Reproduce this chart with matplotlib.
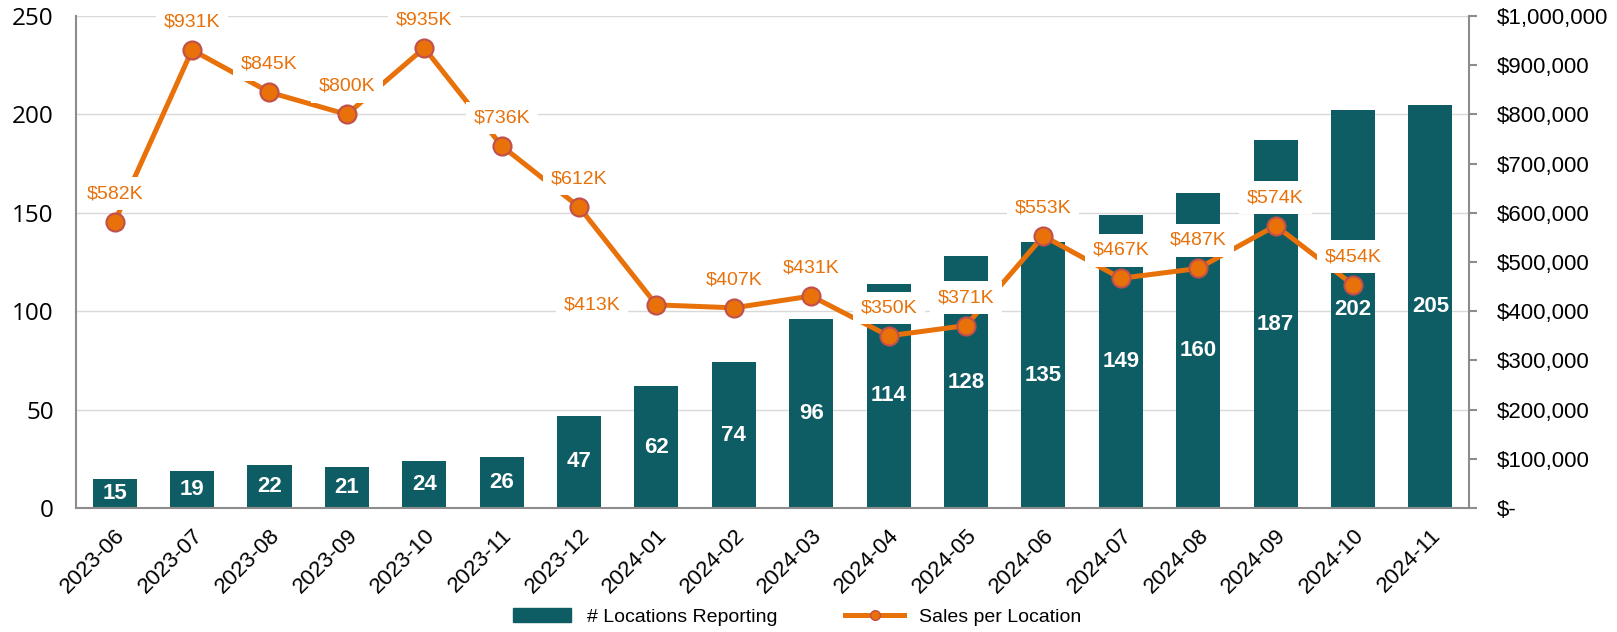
import numpy as np
import matplotlib.pyplot as plt
from matplotlib.lines import Line2D
from matplotlib.patches import Patch
from matplotlib.ticker import FuncFormatter

months = ["2023-06", "2023-07", "2023-08", "2023-09", "2023-10", "2023-11",
          "2023-12", "2024-01", "2024-02", "2024-03", "2024-04", "2024-05",
          "2024-06", "2024-07", "2024-08", "2024-09", "2024-10", "2024-11"]
locations = [15, 19, 22, 21, 24, 26, 47, 62, 74, 96, 114, 128, 135, 149, 160, 187, 202, 205]
sales_k = [582, 931, 845, 800, 935, 736, 612, 413, 407, 431, 350, 371, 553, 467, 487, 574, 454]

teal = "#0E5C64"
orange = "#E8710A"
grey = "#8C8C8C"

fig, ax = plt.subplots(figsize=(16.17, 6.32), dpi=100)
fig.subplots_adjust(left=0.047, right=0.9085, top=0.9747, bottom=0.196)

x = np.arange(len(months))
bars = ax.bar(x, locations, width=0.57, color=teal, zorder=2)
for xi, v in zip(x, locations):
    ax.text(xi, v / 2, str(v), ha="center", va="center", color="white",
            fontsize=16, fontweight="bold", fontstretch="normal",
            family="Liberation Sans", zorder=3)

ax.set_xlim(-0.5, len(months) - 0.5)
ax.set_ylim(0, 250)
ax.set_yticks(range(0, 251, 50))
ax.yaxis.grid(True, color="#D9D9D9", linewidth=1)
ax.set_axisbelow(True)
ax.set_xticks(x)
ax.set_xticklabels(months, rotation=45, ha="right", rotation_mode="anchor",
                   family="Liberation Sans", fontsize=16)
ax.tick_params(axis="x", length=0, pad=12)
ax.tick_params(axis="y", length=0, pad=16, labelsize=17.5)
for lab in ax.get_yticklabels():
    lab.set_family("Open Sans")
for s in ["top", "right"]:
    ax.spines[s].set_visible(False)
for s in ["left", "bottom"]:
    ax.spines[s].set_color(grey)
    ax.spines[s].set_linewidth(1.5)

ax2 = ax.twinx()
sx = x[:len(sales_k)]
sales = [v * 1000 for v in sales_k]
ax2.plot(sx, sales, color=orange, linewidth=3.6, marker="o", markersize=13,
         markerfacecolor=orange, markeredgecolor="#C0504D", markeredgewidth=1.5, zorder=3)
ax2.set_ylim(0, 1000000)
ax2.set_yticks(range(0, 1000001, 100000))
ax2.yaxis.set_major_formatter(FuncFormatter(lambda v, p: "$-" if v == 0 else "${:,.0f}".format(v)))
ax2.tick_params(axis="y", length=6, width=1.5, color=grey, pad=14, labelsize=16)
for lab in ax2.get_yticklabels():
    lab.set_family("Liberation Sans")
for s in ["top", "left", "bottom"]:
    ax2.spines[s].set_visible(False)
ax2.spines["right"].set_color(grey)
ax2.spines["right"].set_linewidth(1.5)

for xi, v, vk in zip(sx, sales, sales_k):
    if vk == 413:
        off, ha = (-36, 0), "right"
    else:
        off, ha = (0, 28), "center"
    ax2.annotate("${}K".format(vk), (xi, v), xytext=off, textcoords="offset pixels",
                 ha=ha, va="center", color=orange, fontsize=14, family="Liberation Sans",
                 bbox=dict(boxstyle="square,pad=0.4", fc="white", ec="none"), zorder=5)

handles = [Patch(color=teal),
           Line2D([0], [0], color=orange, linewidth=3.6, marker="o", markersize=7,
                  markerfacecolor=orange, markeredgecolor="#C0504D")]
fig.legend(handles, ["# Locations Reporting", "Sales per Location"], loc="center",
           bbox_to_anchor=(0.493, 0.024), ncol=2, frameon=False, handlelength=3,
           columnspacing=3.5, prop={"family": "Liberation Sans", "size": 14})

plt.savefig("out.png")
